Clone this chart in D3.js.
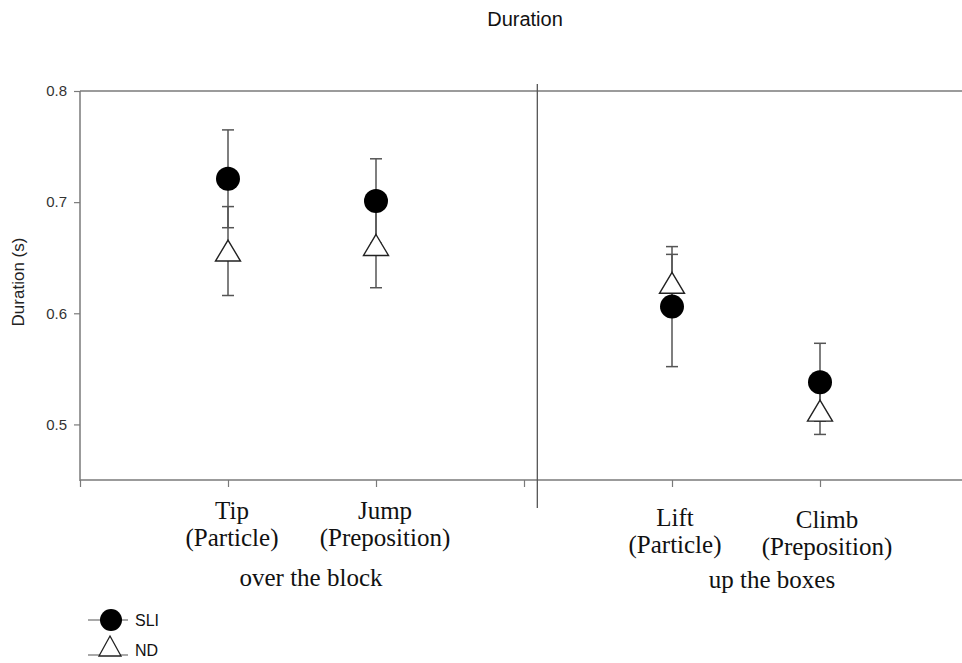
<!DOCTYPE html>
<html>
<head>
<meta charset="utf-8">
<script src="https://cdn.jsdelivr.net/npm/d3@7"></script>
<style>
  html, body { margin: 0; padding: 0; background: #fff; }
  svg { display: block; }
</style>
</head>
<body>
<svg id="chart" width="962" height="663"></svg>
<script>
// ---- data ----
const categories = ["Tip", "Jump", "Lift", "Climb"];
const subLabels = ["(Particle)", "(Preposition)", "(Particle)", "(Preposition)"];
const groups = ["over the block", "up the boxes"];
const categoryPos = [1, 2, 4, 5];
const sliMean = [0.721, 0.701, 0.606, 0.538];
const sliErr  = [0.044, 0.038, 0.054, 0.035];
const ndMean  = [0.656, 0.661, 0.627, 0.512];
const ndErr   = [0.040, 0.038, 0.026, 0.021];
const yTicks = [0.5, 0.6, 0.7, 0.8];
const seriesNames = ["SLI", "ND"];

// ---- layout ----
const svg = d3.select("#chart");
const plotLeft = 80, plotTop = 91, plotBottom = 480;
const x = d3.scaleLinear().domain([0, 6]).range([80, 968]);
const y = d3.scaleLinear().domain([0.45, 0.8]).range([plotBottom, plotTop]);
const axisColor = "#7a7a7a";
const sans = "'Liberation Sans', Arial, sans-serif";
const serif = "'Liberation Serif', 'Times New Roman', serif";

// title
svg.append("text").attr("x", 525).attr("y", 26).attr("text-anchor", "middle")
  .attr("font-family", sans).attr("font-size", 20).attr("fill", "#111").text("Duration");

// top frame line
svg.append("line").attr("x1", plotLeft).attr("x2", 962).attr("y1", plotTop).attr("y2", plotTop)
  .attr("stroke", axisColor).attr("stroke-width", 1.5);

// y axis
const yAxis = svg.append("g").attr("transform", `translate(${plotLeft},0)`)
  .call(d3.axisLeft(y).tickValues(yTicks).tickFormat(d3.format(".1f")).tickSize(6).tickPadding(7));
yAxis.select(".domain").remove();
yAxis.append("line").attr("x1", 0).attr("x2", 0).attr("y1", plotTop).attr("y2", plotBottom + 1)
  .attr("stroke", axisColor).attr("stroke-width", 1.5);
yAxis.selectAll(".tick line").attr("stroke", axisColor).attr("stroke-width", 1.2);
yAxis.selectAll(".tick text").attr("font-family", sans).attr("font-size", 15).attr("fill", "#333");

// x axis
const xAxis = svg.append("g").attr("transform", `translate(0,${plotBottom})`)
  .call(d3.axisBottom(x).tickValues([0, 1, 2, 3, 4, 5, 6]).tickFormat("").tickSize(7));
xAxis.select(".domain").remove();
xAxis.append("line").attr("x1", plotLeft).attr("x2", 962).attr("y1", 0).attr("y2", 0)
  .attr("stroke", axisColor).attr("stroke-width", 1.5);
xAxis.selectAll(".tick line").attr("stroke", axisColor).attr("stroke-width", 1.2);

// divider
svg.append("line").attr("x1", x(3.09)).attr("x2", x(3.09)).attr("y1", 84).attr("y2", 508)
  .attr("stroke", "#555").attr("stroke-width", 1.3);

// y label
svg.append("text").attr("transform", "translate(24,282) rotate(-90)").attr("text-anchor", "middle")
  .attr("font-family", sans).attr("font-size", 17).attr("fill", "#222").text("Duration (s)");

// category labels
const labelOffsetX = [4, 9, 3, 7];
const labelBase = [519, 519, 526, 528];
categories.forEach((c, i) => {
  const cx = x(categoryPos[i]) + labelOffsetX[i];
  svg.append("text").attr("x", cx).attr("y", labelBase[i]).attr("text-anchor", "middle")
    .attr("font-family", serif).attr("font-size", 25).attr("fill", "#111").text(c);
  svg.append("text").attr("x", cx).attr("y", labelBase[i] + 27).attr("text-anchor", "middle")
    .attr("font-family", serif).attr("font-size", 25).attr("fill", "#111").text(subLabels[i]);
});
svg.append("text").attr("x", 311).attr("y", 586).attr("text-anchor", "middle")
  .attr("font-family", serif).attr("font-size", 25).attr("fill", "#111").text(groups[0]);
svg.append("text").attr("x", 772).attr("y", 588).attr("text-anchor", "middle")
  .attr("font-family", serif).attr("font-size", 25).attr("fill", "#111").text(groups[1]);

// symbols
const triPath = (cx, cy) => `M${cx},${cy - 11} L${cx + 12.5},${cy + 10} L${cx - 12.5},${cy + 10} Z`;
const errColor = "#555";
function errBars(means, errs) {
  const g = svg.append("g");
  means.forEach((m, i) => {
    const cx = x(categoryPos[i]);
    g.append("line").attr("x1", cx).attr("x2", cx).attr("y1", y(m + errs[i])).attr("y2", y(m - errs[i]))
      .attr("stroke", errColor).attr("stroke-width", 1.5);
    [m + errs[i], m - errs[i]].forEach(v => {
      g.append("line").attr("x1", cx - 6).attr("x2", cx + 6).attr("y1", y(v)).attr("y2", y(v))
        .attr("stroke", errColor).attr("stroke-width", 1.5);
    });
  });
}
errBars(ndMean, ndErr);
errBars(sliMean, sliErr);
// ND triangles
svg.append("g").selectAll("path").data(ndMean).join("path")
  .attr("d", (d, i) => triPath(x(categoryPos[i]), y(d)))
  .attr("fill", "#fff").attr("stroke", "#222").attr("stroke-width", 1.4);
// SLI circles
svg.append("g").selectAll("circle").data(sliMean).join("circle")
  .attr("cx", (d, i) => x(categoryPos[i])).attr("cy", d => y(d)).attr("r", 12)
  .attr("fill", "#000");

// legend
const lg = svg.append("g");
lg.append("line").attr("x1", 88).attr("x2", 128).attr("y1", 620).attr("y2", 620).attr("stroke", "#555").attr("stroke-width", 1.2);
lg.append("circle").attr("cx", 111).attr("cy", 620).attr("r", 11).attr("fill", "#000");
lg.append("text").attr("x", 135).attr("y", 626).attr("font-family", sans).attr("font-size", 16).attr("fill", "#111").text(seriesNames[0]);
lg.append("line").attr("x1", 88).attr("x2", 128).attr("y1", 655).attr("y2", 655).attr("stroke", "#555").attr("stroke-width", 1.2);
lg.append("path").attr("d", `M110,636 L121,656 L99,656 Z`).attr("fill", "#fff").attr("stroke", "#222").attr("stroke-width", 1.3);
lg.append("text").attr("x", 135).attr("y", 656).attr("font-family", sans).attr("font-size", 16).attr("fill", "#111").text(seriesNames[1]);
</script>
</body>
</html>
